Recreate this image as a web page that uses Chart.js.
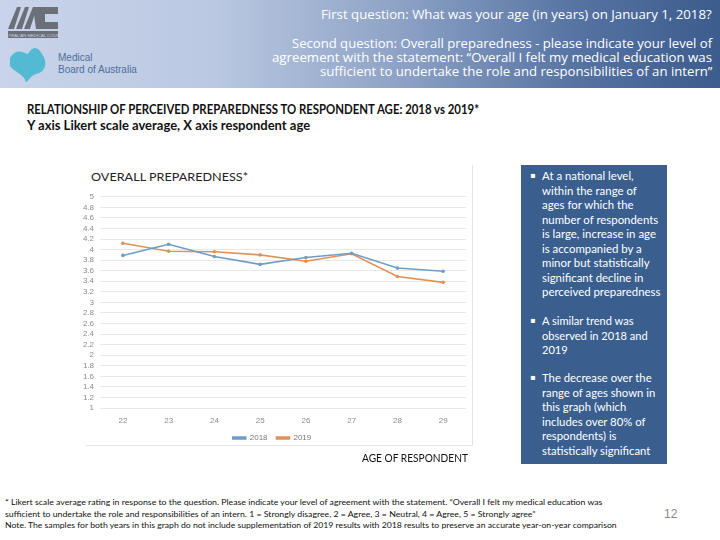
<!DOCTYPE html>
<html>
<head>
<meta charset="utf-8">
<script src="https://cdn.jsdelivr.net/npm/chart.js@4.4.1/dist/chart.umd.min.js"></script>
<style>
  html,body{margin:0;padding:0;}
  body{width:720px;height:540px;position:relative;background:#fff;overflow:hidden;font-family:Lato,"Liberation Sans",sans-serif;}
  .abs{position:absolute;white-space:nowrap;}
  #header{left:0;top:0;width:720px;height:88px;background:linear-gradient(90deg,#c9d4ea 0%,#bac8e1 30%,#8ea3c6 55%,#5673a2 80%,#3c5c8d 100%);}
  .htxt{color:#fff;font-family:"Open Sans","Liberation Sans",sans-serif;font-size:12.5px;line-height:14px;transform-origin:right center;}
  #amc{left:6px;top:3px;width:54px;height:40px;}
  #mba{left:6px;top:44px;}
  .ttl{left:27px;font-weight:bold;font-size:12.5px;color:#111;transform-origin:left center;}
  #box{left:521px;top:165px;width:146px;height:299px;background:#3a5f8f;}
  .bul{position:absolute;left:9px;color:#fff;font-size:11.5px;line-height:14.5px;white-space:nowrap;}
  .bul span.b{position:absolute;left:0;top:0;font-size:8px;font-family:"DejaVu Sans",sans-serif;}
  .bul .t{position:absolute;left:12px;top:0;transform-origin:left top;}
  .foot{left:5px;font-size:7.6px;color:#111;transform-origin:left center;}
  #pg{left:664px;top:507px;font-size:12px;color:#8a8a8a;font-family:"Liberation Sans",sans-serif;}
  #cframe{left:86px;top:165px;width:386px;height:280px;border-right:1px solid #e3e3e3;border-bottom:1px solid #e3e3e3;}
  #wrap{left:78px;top:186px;width:394px;height:266px;}
</style>
</head>
<body>
<div id="header" class="abs"></div>
<svg id="amc" class="abs" viewBox="0 0 54 40">
  <polygon points="2,26 11,4 15,4 8,26" fill="#6b6f78"/>
  <polygon points="10,26 19,4 23,4 16,26" fill="#6b6f78"/>
  <polygon points="18,26 27,4 31,4 24,26" fill="#6b6f78"/>
  <path d="M27,4 H52 V11 H39 V19 H52 V26 H30 Z" fill="#6b6f78"/>
  <rect x="2" y="28" width="50" height="7" fill="#6b6f78"/>
  <text x="27" y="33.5" font-size="4.2" fill="#c9d4ea" text-anchor="middle" font-family="Liberation Sans">AUSTRALIAN MEDICAL COUNCIL</text>
</svg>
<svg id="mba" class="abs" width="140" height="40" viewBox="0 0 140 40">
  <path d="M4,14 C10,4 16,8 22,10 C26,2 32,2 36,10 C42,18 40,28 30,30 C24,32 22,38 20,38 C18,30 8,28 4,22 Z" fill="#47b6cf" opacity="0.9"/>
  <text x="52" y="17" font-size="10" fill="#4d6f98" font-family="Liberation Sans">Medical</text>
  <text x="52" y="29" font-size="10" fill="#4d6f98" font-family="Liberation Sans">Board of Australia</text>
</svg>
<div class="abs htxt" style="right:8px;top:8px;" data-w="391">First question: What was your age (in years) on January 1, 2018?</div>
<div class="abs htxt" style="right:8px;top:37px;" data-w="420">Second question: Overall preparedness - please indicate your level of</div>
<div class="abs htxt" style="right:8px;top:51px;" data-w="440">agreement with the statement: “Overall I felt my medical education was</div>
<div class="abs htxt" style="right:8px;top:65px;" data-w="392">sufficient to undertake the role and responsibilities of an intern”</div>

<div class="abs ttl" style="top:102px;" data-w="452">RELATIONSHIP OF PERCEIVED PREPAREDNESS TO RESPONDENT AGE: 2018 vs 2019*</div>
<div class="abs ttl" style="top:118px;" data-w="283">Y axis Likert scale average, X axis respondent age</div>

<div id="cframe" class="abs"></div>
<div class="abs" style="left:91px;top:170px;font-size:11.5px;color:#222;transform-origin:left center;" data-w="157">OVERALL PREPAREDNESS*</div>
<div id="wrap" class="abs"><canvas id="c"></canvas></div>
<div class="abs" style="left:362px;top:451px;font-size:11.5px;color:#111;transform-origin:left center;" data-w="106">AGE OF RESPONDENT</div>

<div id="box" class="abs">
  <div class="bul" style="top:4px;"><span class="b">▪</span><div class="t" data-w="118">At a national level,<br>within the range of<br>ages for which the<br>number of respondents<br>is large, increase in age<br>is accompanied by a<br>minor but statistically<br>significant decline in<br>perceived preparedness</div></div>
  <div class="bul" style="top:149px;"><span class="b">▪</span><div class="t" data-w="106">A similar trend was<br>observed in 2018 and<br>2019</div></div>
  <div class="bul" style="top:206px;"><span class="b">▪</span><div class="t" data-w="113">The decrease over the<br>range of ages shown in<br>this graph (which<br>includes over 80% of<br>respondents) is<br>statistically significant</div></div>
</div>

<div class="abs foot" style="top:497px;" data-w="597">* Likert scale average rating in response to the question. Please indicate your level of agreement with the statement. “Overall I felt my medical education was</div>
<div class="abs foot" style="top:509px;" data-w="531">sufficient to undertake the role and responsibilities of an intern. 1 = Strongly disagree, 2 = Agree, 3 = Neutral, 4 = Agree, 5 = Strongly agree”</div>
<div class="abs foot" style="top:520px;" data-w="612">Note. The samples for both years in this graph do not include supplementation of 2019 results with 2018 results to preserve an accurate year-on-year comparison</div>
<div id="pg" class="abs">12</div>

<script>
const ages = ["22","23","24","25","26","27","28","29"];
const values2018 = [3.89, 4.10, 3.87, 3.72, 3.85, 3.93, 3.65, 3.59];
const values2019 = [4.12, 3.97, 3.96, 3.90, 3.78, 3.92, 3.49, 3.38];
const seriesNames = ["2018", "2019"];
const yMin = 1, yMax = 5, yStep = 0.2;

// fit text elements to the widths measured on the reference
document.querySelectorAll("[data-w]").forEach(el => {
  const w = el.scrollWidth || el.getBoundingClientRect().width;
  const target = parseFloat(el.dataset.w);
  if (w > 0) el.style.transform = "scaleX(" + (target / w) + ")";
});

const blue = "#6f9dc9", orange = "#e0915a";
new Chart(document.getElementById("c"), {
  type: "line",
  data: {
    labels: ages,
    datasets: [
      {label: seriesNames[0], data: values2018, borderColor: blue, backgroundColor: blue, borderWidth: 1.6, pointRadius: 1.8, pointBorderWidth: 0, tension: 0},
      {label: seriesNames[1], data: values2019, borderColor: orange, backgroundColor: orange, borderWidth: 1.6, pointRadius: 1.8, pointBorderWidth: 0, tension: 0}
    ]
  },
  options: {
    responsive: true, maintainAspectRatio: false, animation: false,
    layout: {padding: {top: 7, right: 6, bottom: 0, left: 0}},
    plugins: {
      tooltip: {enabled: false},
      legend: {
        position: "bottom",
        labels: {
          boxWidth: 13, boxHeight: 2, color: "#777", font: {size: 8, family: "Liberation Sans"}, padding: 0,
          generateLabels: chart => {
            const items = Chart.defaults.plugins.legend.labels.generateLabels(chart);
            items.forEach((it, i) => { if (i < items.length - 1) it.text = it.text + "    "; });
            return items;
          }
        }
      }
    },
    scales: {
      x: {
        offset: true,
        grid: {display: false, drawTicks: false},
        border: {display: false},
        ticks: {color: "#8c8c8c", font: {size: 8, family: "Liberation Sans", lineHeight: 1}, padding: 9}
      },
      y: {
        min: yMin, max: yMax,
        afterFit: s => { s.width = 22; },
        grid: {color: "#e8e8e8", drawTicks: false},
        border: {display: false},
        ticks: {stepSize: yStep, autoSkip: false, color: "#8c8c8c", font: {size: 8, family: "Liberation Sans"}, padding: 6,
          callback: v => Math.round(v*10)/10}
      }
    }
  }
});
</script>
</body>
</html>
